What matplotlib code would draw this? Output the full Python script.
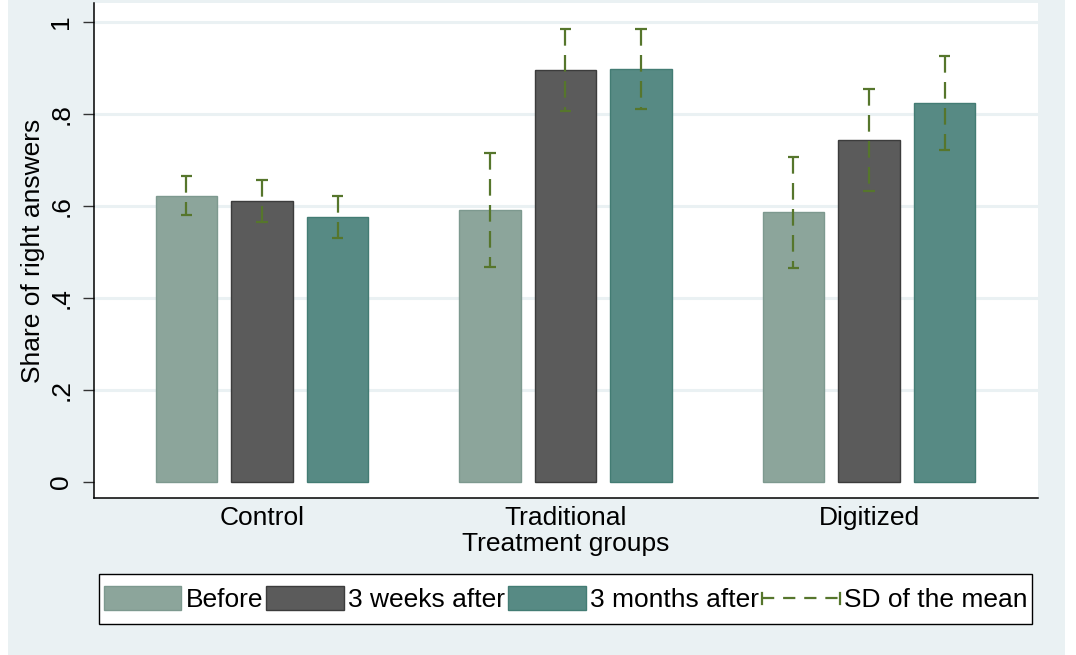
import matplotlib
matplotlib.use("Agg")
import matplotlib.pyplot as plt
import numpy as np
from matplotlib.patches import Rectangle
from matplotlib.lines import Line2D
from matplotlib.legend_handler import HandlerBase

# ---- data -------------------------------------------------------------
groups = ["Control", "Traditional", "Digitized"]
series_names = ["Before", "3 weeks after", "3 months after"]
before = [0.622, 0.591, 0.586]
weeks3 = [0.610, 0.896, 0.743]
months3 = [0.575, 0.898, 0.823]
sd_before = [0.043, 0.124, 0.121]
sd_weeks3 = [0.046, 0.089, 0.110]
sd_months3 = [0.046, 0.087, 0.102]
yticks = [0, 0.2, 0.4, 0.6, 0.8, 1.0]
ytick_labels = ["0", ".2", ".4", ".6", ".8", "1"]

# ---- style ------------------------------------------------------------
plt.rcParams["font.family"] = ["Liberation Sans", "DejaVu Sans"]
FS = 19
BG = "#EAF1F3"
fills = ["#8CA59B", "#5B5B5B", "#578A84"]
edges = ["#7D998F", "#3C3C3C", "#437C74"]
SD_COLOR = "#56762C"
SD_DASH = (0, (7.5, 4.2))

W, H = 1076, 655
fig = plt.figure(figsize=(W / 100, H / 100), dpi=100)
fig.patch.set_facecolor("white")
fig.patches.append(Rectangle((8 / W, 0), (1065 - 8) / W, 1, transform=fig.transFigure,
                             facecolor=BG, edgecolor="none", zorder=-10))

ax = fig.add_axes([94 / W, 1 - 498 / H, (1038 - 94) / W, (498 - 3) / H])
ax.set_facecolor("white")

x = np.arange(len(groups))
offset = 0.249
width = 0.203
values = [before, weeks3, months3]
sds = [sd_before, sd_weeks3, sd_months3]

for i, (vals, sd) in enumerate(zip(values, sds)):
    xs = x + (i - 1) * offset
    ax.bar(xs, vals, width=width, color=fills[i], edgecolor=edges[i],
           linewidth=1.0, zorder=3, label=series_names[i])
    for xi, v, s in zip(xs, vals, sd):
        hi, lo = v + s, v - s
        ax.plot([xi, xi], [hi, lo], color=SD_COLOR, lw=1.6,
                linestyle=SD_DASH, zorder=4, solid_capstyle="butt",
                dash_capstyle="butt")
        for yy in (hi, lo):
            ax.plot([xi - 0.019, xi + 0.019], [yy, yy], color=SD_COLOR,
                    lw=1.6, zorder=4, solid_capstyle="butt")

ax.set_xlim(-0.5535, 2.557)
ax.set_ylim(-0.0354, 1.0407)

for yy in yticks[1:]:
    ax.axhline(yy, color=BG, lw=2.2, zorder=1)

ax.set_yticks(yticks)
ax.set_yticklabels(ytick_labels, rotation=90, va="center", fontsize=FS)
ax.tick_params(axis="y", length=8, width=1.0, color="#333333", pad=7)
ax.set_xticks(x)
ax.set_xticklabels(groups, fontsize=FS)
ax.tick_params(axis="x", length=0, pad=6)
ax.set_xlabel("Treatment groups", fontsize=FS, labelpad=1)
ax.set_ylabel("Share of right answers", fontsize=FS, labelpad=3)

for side in ("top", "right"):
    ax.spines[side].set_visible(False)
for side in ("left", "bottom"):
    ax.spines[side].set_linewidth(1.1)
    ax.spines[side].set_color("black")


class SDHandler(HandlerBase):
    def create_artists(self, legend, orig_handle, xdescent, ydescent,
                       width, height, fontsize, trans):
        yc = height / 2 - ydescent
        x0, x1 = -xdescent, -xdescent + width
        line = Line2D([x0, x1], [yc, yc], color=SD_COLOR, lw=1.6,
                      linestyle=(0, (5.5, 4.0)), transform=trans)
        c = height * 0.22
        cap0 = Line2D([x0, x0], [yc - c, yc + c], color=SD_COLOR, lw=1.6,
                      transform=trans)
        cap1 = Line2D([x1, x1], [yc - c, yc + c], color=SD_COLOR, lw=1.6,
                      transform=trans)
        return [line, cap0, cap1]


handles, labels = ax.get_legend_handles_labels()
sd_handle = Line2D([], [], color=SD_COLOR)
handles.append(sd_handle)
labels.append("SD of the mean")

leg_y = 1 - 599 / H
leg = fig.legend(handles, labels, loc="center", ncol=4,
                 bbox_to_anchor=(565.5 / W, leg_y),
                 fontsize=FS, frameon=False,
                 handlelength=2.95, handleheight=1.05, handletextpad=0.15,
                 columnspacing=0.12, borderpad=0.0, borderaxespad=0,
                 handler_map={sd_handle: SDHandler()})

# boxed legend frame: tight at the sides, roomier above and below
fig.canvas.draw()
bb = leg.get_window_extent(fig.canvas.get_renderer())
pad_x, half_h = 5, 25
fig.patches.append(Rectangle(((bb.x0 - pad_x) / W, leg_y - half_h / H),
                             (bb.width + 2 * pad_x) / W, 2 * half_h / H,
                             transform=fig.transFigure, facecolor="white",
                             edgecolor="black", linewidth=1.0, zorder=-5))

fig.savefig("out.png", dpi=100, facecolor=fig.get_facecolor())
